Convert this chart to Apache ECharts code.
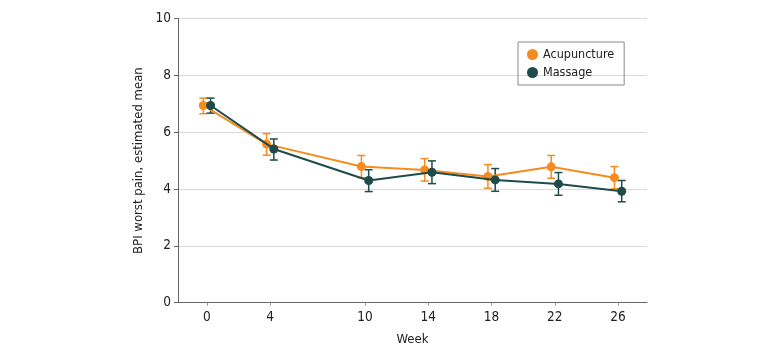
<!DOCTYPE html>
<html>
<head>
<meta charset="utf-8">
<script src="https://cdn.jsdelivr.net/npm/echarts@6/dist/echarts.min.js"></script>
<style>
  html, body { margin: 0; padding: 0; background: #fff; }
  #main { width: 780px; height: 357px; }
</style>
</head>
<body>
<div id="main"></div>
<script>
// 数据
var weeks = [0, 4, 10, 14, 18, 22, 26];
var acuMean = [6.94, 5.58, 4.79, 4.67, 4.44, 4.78, 4.40];
var acuLow  = [6.65, 5.19, 4.40, 4.28, 4.03, 4.38, 4.01];
var acuHigh = [7.20, 5.95, 5.18, 5.07, 4.86, 5.18, 4.79];
var masMean = [6.94, 5.41, 4.30, 4.59, 4.32, 4.18, 3.92];
var masLow  = [6.67, 5.02, 3.91, 4.19, 3.92, 3.78, 3.55];
var masHigh = [7.20, 5.76, 4.68, 4.99, 4.72, 4.58, 4.30];
var xTicks = [0, 4, 10, 14, 18, 22, 26];
var seriesNames = ['Acupuncture', 'Massage'];

var colorAcu = '#f68b1f';
var colorMas = '#1f4b4a';
var dodge = 0.23;   // 两组点左右错开一点
var font = "'DejaVu Sans Condensed', 'DejaVu Sans', sans-serif";

function lineData(mean, off) {
    return weeks.map(function (w, i) { return [w + off, mean[i]]; });
}
function barData(low, high, off) {
    return weeks.map(function (w, i) { return [w + off, low[i], high[i]]; });
}

// 误差线
function errorBar(color) {
    return function (params, api) {
        var top = api.coord([api.value(0), api.value(2)]);
        var bot = api.coord([api.value(0), api.value(1)]);
        var half = 4;
        var style = { stroke: color, lineWidth: 1.5 };
        return {
            type: 'group',
            children: [
                { type: 'line', shape: { x1: top[0], y1: top[1], x2: bot[0], y2: bot[1] }, style: style },
                { type: 'line', shape: { x1: top[0] - half, y1: top[1], x2: top[0] + half, y2: top[1] }, style: style },
                { type: 'line', shape: { x1: bot[0] - half, y1: bot[1], x2: bot[0] + half, y2: bot[1] }, style: style }
            ]
        };
    };
}

var chart = echarts.init(document.getElementById('main'), null, { renderer: 'canvas' });

var option = {
    animation: false,
    textStyle: { fontFamily: font },
    grid: { left: 178, right: 133, top: 18.5, bottom: 54.3 },
    legend: {
        data: seriesNames,
        orient: 'vertical',
        left: 518,
        top: 42,
        icon: 'circle',
        itemWidth: 11,
        itemHeight: 11,
        itemGap: 5,
        itemTextGap: 8,
        padding: [6, 10, 6, 9],
        borderColor: '#8a8a8a',
        borderWidth: 1,
        textStyle: { fontFamily: font, fontSize: 12.5, color: '#222' }
    },
    xAxis: {
        type: 'value',
        min: -1.83,
        max: 27.83,
        name: 'Week',
        nameLocation: 'middle',
        nameGap: 30,
        nameTextStyle: { fontFamily: font, fontSize: 13, color: '#222' },
        axisLine: { show: true, lineStyle: { color: '#666', width: 1 } },
        axisTick: { show: true, customValues: xTicks, length: 3, lineStyle: { color: '#999' } },
        axisLabel: { customValues: xTicks, fontSize: 13.5, color: '#222', margin: 8 },
        splitLine: { show: false }
    },
    yAxis: {
        type: 'value',
        min: 0,
        max: 10,
        interval: 2,
        name: 'BPI worst pain, estimated mean',
        nameLocation: 'middle',
        nameGap: 28,
        nameTextStyle: { fontFamily: font, fontSize: 13, color: '#222' },
        axisLine: { show: true, onZero: false, lineStyle: { color: '#666', width: 1 } },
        axisTick: { show: true, length: 4, lineStyle: { color: '#666' } },
        axisLabel: { fontSize: 13.5, color: '#222', margin: 7 },
        splitLine: { show: true, lineStyle: { color: '#d9d9d9', width: 1 } }
    },
    series: [
        {
            name: 'Acupuncture-err',
            type: 'custom',
            renderItem: errorBar(colorAcu),
            data: barData(acuLow, acuHigh, -dodge),
            z: 1,
            silent: true
        },
        {
            name: 'Massage-err',
            type: 'custom',
            renderItem: errorBar(colorMas),
            data: barData(masLow, masHigh, dodge),
            z: 1,
            silent: true
        },
        {
            name: 'Acupuncture',
            type: 'line',
            data: lineData(acuMean, -dodge),
            symbol: 'circle',
            symbolSize: 9,
            itemStyle: { color: colorAcu },
            lineStyle: { color: colorAcu, width: 2 },
            z: 3
        },
        {
            name: 'Massage',
            type: 'line',
            data: lineData(masMean, dodge),
            symbol: 'circle',
            symbolSize: 9,
            itemStyle: { color: colorMas },
            lineStyle: { color: colorMas, width: 2 },
            z: 4
        }
    ]
};

chart.setOption(option);
</script>
</body>
</html>
